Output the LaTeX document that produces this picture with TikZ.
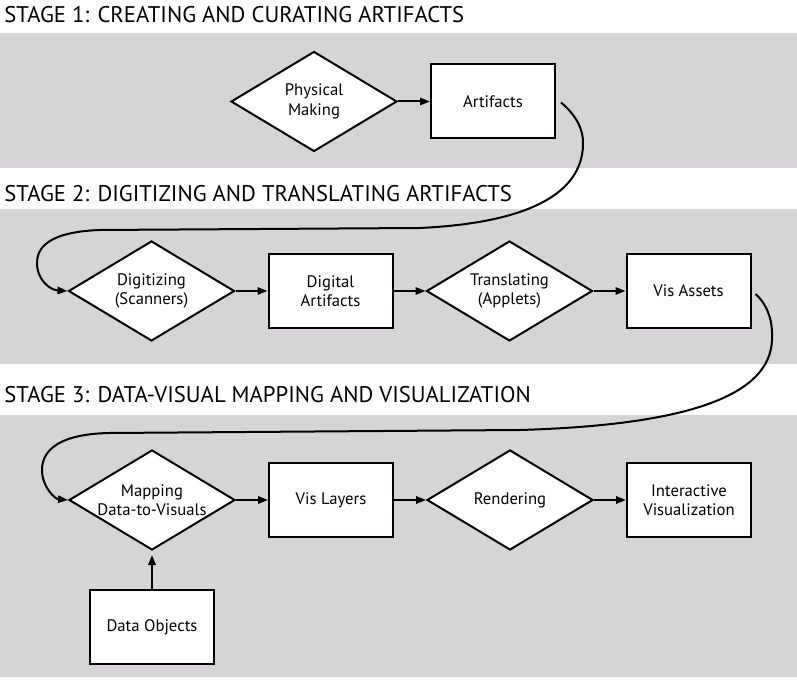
\documentclass[tikz,border=0pt]{standalone}
\usepackage{fontspec}
\setmainfont{PT Sans}
\usetikzlibrary{shapes.geometric,arrows.meta,positioning}
\definecolor{bandgray}{RGB}{214,212,214}

\begin{document}
\begin{tikzpicture}[
			x=0.75pt, y=-0.75pt,
			>={Triangle[length=7.5pt,width=5.5pt]},
			node distance=24pt,
			band/.style={
				fill=bandgray,
				draw=none
			},
			stagetitle/.style={
				anchor=base west,
				inner sep=0pt,
				font=\fontsize{17}{20}\selectfont
			},
			process/.style={
				draw,
				line width=1.5pt,
				fill=white,
				align=center,
				font=\fontsize{12.5}{14.5}\selectfont,
				minimum width=93pt,
				minimum height=55.5pt,
				inner sep=2pt
			},
			decision/.style={
				diamond,
				draw,
				line width=1.5pt,
				fill=white,
				align=center,
				font=\fontsize{12.5}{14.5}\selectfont,
				aspect=1.65,
				minimum width=124.5pt,
				minimum height=75pt,
				inner sep=0pt
			},
			flow/.style={
				->,
				line width=1.5pt
			}
			]
			
			\useasboundingbox (0,0) rectangle (797,680);
			
			% Bands
			\fill[band] (0,33) rectangle (797,168);
			\fill[band] (0,209) rectangle (797,364);
			\fill[band] (0,415) rectangle (797,677);
			
			% Titles
			\node[stagetitle] (title1) at (4,23) {STAGE 1: CREATING AND CURATING ARTIFACTS};
			\node[stagetitle] (title2) at (4,202) {STAGE 2: DIGITIZING AND TRANSLATING ARTIFACTS};
			\node[stagetitle] (title3) at (4,403) {STAGE 3: DATA-VISUAL MAPPING AND VISUALIZATION};
			
			% Stage 1
			\node[decision] (make) at (314,101.5) {Physical\\Making};
			\node[process,right=of make] (art) {Artifacts};
			
			% Stage 2
			\node[decision] (dig) at (151.5,291) {Digitizing\\(Scanners)};
			\node[process,right=of dig] (digart) {Digital\\Artifacts};
			\node[decision,right=of digart] (trans) {Translating\\(Applets)};
			\node[process,right=of trans] (assets) {Vis Assets};
			
			% Stage 3
			\node[decision] (map) at (152,500) {Mapping\\Data-to-Visuals};
			\node[process,right=of map] (layers) {Vis Layers};
			\node[decision,right=of layers] (render) {Rendering};
			\node[process,right=of render] (interact) {Interactive\\Visualization};
			\node[process,below=28.5pt of map] (data) {Data Objects};
			
			% Arrows
			\draw[flow] (make) -- (art);
			\draw[flow] (dig) -- (digart);
			\draw[flow] (digart) -- (trans);
			\draw[flow] (trans) -- (assets);
			\draw[flow] (map) -- (layers);
			\draw[flow] (layers) -- (render);
			\draw[flow] (render) -- (interact);
			\draw[flow,shorten >=3pt] (data) -- (map);
			
			% Stage to stage
			\draw[flow] ([shift={(5,1)}]art.east)
				.. controls (576,115) and (584,130) .. (583,145)
				.. controls (582,185) and (545,222) .. (420,228)
				-- (100,230)
				.. controls (45,232) and (37,250) .. (37,263)
				.. controls (37,280) and (50,290) .. (dig.west);
			\draw[flow] ([shift={(4,3)}]assets.east)
				.. controls (768,305) and (773,322) .. (772,340)
				.. controls (770,395) and (690,425) .. (520,430)
				-- (110,433)
				.. controls (52,434) and (42,455) .. (42,470)
				.. controls (42,487) and (55,499) .. (map.west);
			
		\end{tikzpicture}
\end{document}
